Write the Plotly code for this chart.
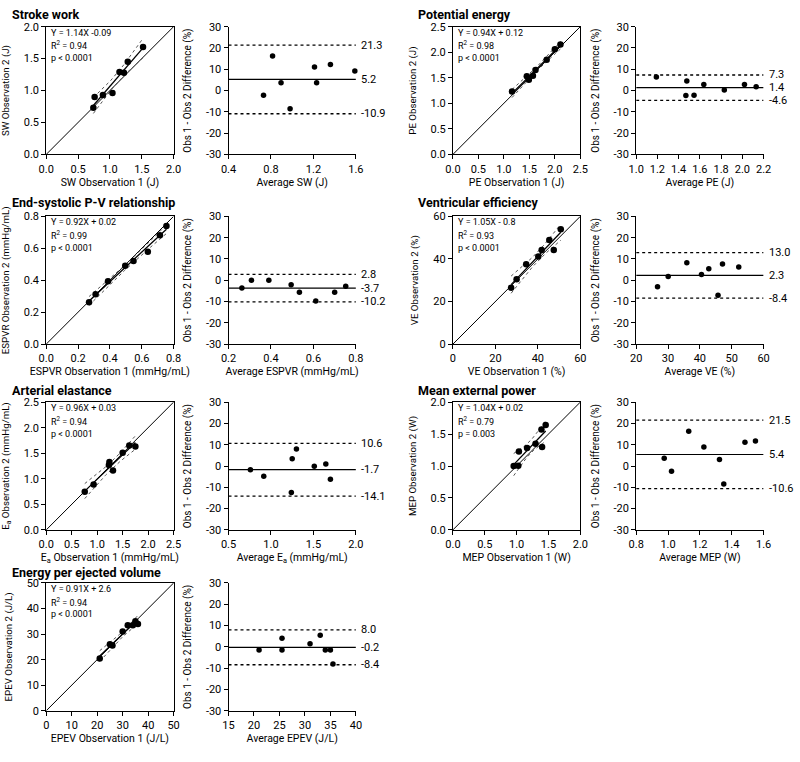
import numpy as np
import plotly.graph_objects as go

W, H = 800, 762

# ---------------- data ----------------
panel_titles = ["Stroke work", "Potential energy", "End-systolic P-V relationship",
                "Ventricular efficiency", "Arterial elastance", "Mean external power",
                "Energy per ejected volume"]

sw_obs1 = [0.74, 0.76, 0.89, 1.04, 1.15, 1.22, 1.28, 1.52]
sw_obs2 = [0.73, 0.90, 0.93, 0.96, 1.29, 1.28, 1.45, 1.68]
sw_avg = [0.73, 0.815, 0.895, 0.98, 1.21, 1.23, 1.36, 1.59]
sw_diff = [-2.2, 16.2, 3.7, -8.6, 11.1, 3.7, 12.2, 9.2]
sw_limits = [21.3, 5.2, -10.9]
sw_stats = ["Y = 1.14X -0.09", "R<sup>2</sup> = 0.94", "p < 0.0001"]

pe_obs1 = [1.16, 1.45, 1.49, 1.57, 1.62, 1.84, 2.00, 2.11]
pe_obs2 = [1.23, 1.53, 1.46, 1.54, 1.65, 1.85, 2.06, 2.15]
pe_avg = [1.19, 1.477, 1.468, 1.545, 1.637, 1.83, 2.02, 2.13]
pe_diff = [6.3, 4.5, -2.3, -2.2, 2.8, 0.3, 2.8, 1.8]
pe_limits = [7.3, 1.4, -4.6]
pe_stats = ["Y = 0.94X + 0.12", "R<sup>2</sup> = 0.98", "p < 0.0001"]

espvr_obs1 = [0.269, 0.31, 0.388, 0.496, 0.548, 0.638, 0.714, 0.755]
espvr_obs2 = [0.262, 0.313, 0.394, 0.491, 0.52, 0.579, 0.682, 0.74]
espvr_avg = [0.263, 0.308, 0.39, 0.495, 0.534, 0.611, 0.70, 0.752]
espvr_diff = [-3.7, 0.0, 0.0, -2.1, -5.6, -9.7, -5.6, -2.8]
espvr_limits = [2.8, -3.7, -10.2]
espvr_stats = ["Y = 0.92X + 0.02", "R<sup>2</sup> = 0.99", "p < 0.0001"]

ve_obs1 = [27.4, 30.0, 34.5, 40.2, 41.8, 45.4, 47.5, 50.8]
ve_obs2 = [26.5, 30.5, 37.5, 41.1, 44.2, 48.9, 44.2, 54.0]
ve_avg = [26.7, 30.05, 35.9, 40.5, 42.8, 47.1, 45.7, 52.2]
ve_diff = [-3.0, 1.8, 8.2, 2.7, 5.4, 7.6, -7.1, 6.2]
ve_limits = [13.0, 2.3, -8.4]
ve_stats = ["Y = 1.05X - 0.8", "R<sup>2</sup> = 0.93", "p < 0.0001"]

ea_obs1 = [0.756, 0.93, 1.23, 1.24, 1.31, 1.50, 1.63, 1.75]
ea_obs2 = [0.744, 0.89, 1.27, 1.33, 1.16, 1.51, 1.65, 1.63]
ea_avg = [0.758, 0.915, 1.25, 1.30, 1.24, 1.51, 1.646, 1.70]
ea_diff = [-1.8, -4.8, 3.4, 8.0, -12.4, -0.1, 1.0, -6.2]
ea_limits = [10.6, -1.7, -14.1]
ea_stats = ["Y = 0.96X + 0.03", "R<sup>2</sup> = 0.94", "p < 0.0001"]

mep_obs1 = [0.954, 1.026, 1.036, 1.164, 1.297, 1.40, 1.39, 1.456]
mep_obs2 = [1.0, 1.005, 1.226, 1.282, 1.349, 1.297, 1.57, 1.64]
mep_avg = [0.976, 1.022, 1.13, 1.225, 1.323, 1.35, 1.483, 1.549]
mep_diff = [3.6, -2.5, 16.3, 8.9, 3.1, -8.5, 11.2, 11.7]
mep_limits = [21.5, 5.4, -10.6]
mep_stats = ["Y = 1.04X + 0.02", "R<sup>2</sup> = 0.79", "p = 0.003"]

epev_obs1 = [21.0, 25.0, 26.0, 30.0, 32.0, 34.0, 35.0, 36.0]
epev_obs2 = [20.5, 26.0, 25.5, 31.0, 33.5, 33.5, 35.0, 34.0]
epev_avg = [21.0, 25.5, 25.5, 31.0, 33.0, 34.0, 35.0, 35.5]
epev_diff = [-1.5, -1.5, 4.0, 1.5, 5.5, -1.5, -1.5, -8.0]
epev_limits = [8.0, -0.2, -8.4]
epev_stats = ["Y = 0.91X + 2.6", "R<sup>2</sup> = 0.94", "p < 0.0001"]

ba_ytitle = "Obs 1 - Obs 2 Difference (%)"
ba_yticks = [-30, -20, -10, 0, 10, 20, 30]
ba_yticktext = ["-30", "-20", "-10", "0", "10", "20", "30"]

# ---------------- layout of panels (pixels) ----------------
panels = [
    dict(obs1=sw_obs1, obs2=sw_obs2, avg=sw_avg, diff=sw_diff, lim=sw_limits, stats=sw_stats,
         title=panel_titles[0], xt="SW Observation 1 (J)", yt="SW Observation 2 (J)", bat="Average SW (J)",
         srange=[0, 2], sdt=0.5, sfmt=".1f", barange=[0.4, 1.6], badt=0.4, bafmt=".1f", col=0, row=0),
    dict(obs1=pe_obs1, obs2=pe_obs2, avg=pe_avg, diff=pe_diff, lim=pe_limits, stats=pe_stats,
         title=panel_titles[1], xt="PE Observation 1 (J)", yt="PE Observation 2 (J)", bat="Average PE (J)",
         srange=[0, 2.5], sdt=0.5, sfmt=".1f", barange=[1.0, 2.2], badt=0.2, bafmt=".1f", col=1, row=0),
    dict(obs1=espvr_obs1, obs2=espvr_obs2, avg=espvr_avg, diff=espvr_diff, lim=espvr_limits, stats=espvr_stats,
         title=panel_titles[2], xt="ESPVR Observation 1 (mmHg/mL)", yt="ESPVR Observation 2 (mmHg/mL)",
         bat="Average ESPVR (mmHg/mL)",
         srange=[0, 0.8], sdt=0.2, sfmt=".1f", barange=[0.2, 0.8], badt=0.2, bafmt=".1f", col=0, row=1),
    dict(obs1=ve_obs1, obs2=ve_obs2, avg=ve_avg, diff=ve_diff, lim=ve_limits, stats=ve_stats,
         title=panel_titles[3], xt="VE Observation 1 (%)", yt="VE Observation 2 (%)", bat="Average VE (%)",
         srange=[0, 60], sdt=20, sfmt="d", barange=[20, 60], badt=10, bafmt="d", col=1, row=1),
    dict(obs1=ea_obs1, obs2=ea_obs2, avg=ea_avg, diff=ea_diff, lim=ea_limits, stats=ea_stats,
         title=panel_titles[4], xt="E<sub>a</sub> Observation 1 (mmHg/mL)", yt="E<sub>a</sub> Observation 2 (mmHg/mL)",
         bat="Average E<sub>a</sub> (mmHg/mL)",
         srange=[0, 2.5], sdt=0.5, sfmt=".1f", barange=[0.5, 2.0], badt=0.5, bafmt=".1f", col=0, row=2),
    dict(obs1=mep_obs1, obs2=mep_obs2, avg=mep_avg, diff=mep_diff, lim=mep_limits, stats=mep_stats,
         title=panel_titles[5], xt="MEP Observation 1 (W)", yt="MEP Observation 2 (W)", bat="Average MEP (W)",
         srange=[0, 2.0], sdt=0.5, sfmt=".1f", barange=[0.8, 1.6], badt=0.2, bafmt=".1f", col=1, row=2),
    dict(obs1=epev_obs1, obs2=epev_obs2, avg=epev_avg, diff=epev_diff, lim=epev_limits, stats=epev_stats,
         title=panel_titles[6], xt="EPEV Observation 1 (J/L)", yt="EPEV Observation 2 (J/L)", bat="Average EPEV (J/L)",
         srange=[0, 50], sdt=10, sfmt="d", barange=[15, 40], badt=5, bafmt="d", col=0, row=3),
]

row_tops = [21, 214, 403, 587]
title_y = [9, 200, 391, 576]
PW = 130
col_sx = [39, 454]
col_bx = [225, 641]
col_tx = [2, 416]

FONT = "Roboto"
fig = go.Figure()
layout = dict(width=W, height=H, margin=dict(l=0, r=0, t=0, b=0),
              paper_bgcolor="white", plot_bgcolor="white", showlegend=False,
              font=dict(family=FONT, size=10, color="black"))
annotations = []


def px(x):
    return x / W


def py(y):
    return 1 - y / H


def ticks(r, dt):
    n = int(round((r[1] - r[0]) / dt))
    return [round(r[0] + i * dt, 6) for i in range(n + 1)]


T_CRIT = 2.447  # t(0.975, df=6)
ax = 1
for p in panels:
    top = row_tops[p["row"]]
    bot = top + PW
    # ---- scatter panel ----
    sx0 = col_sx[p["col"]]
    xs, ys = f"x{ax}", f"y{ax}"
    xk = "xaxis" if ax == 1 else f"xaxis{ax}"
    yk = "yaxis" if ax == 1 else f"yaxis{ax}"
    common = dict(showgrid=False, zeroline=False, showline=True, linecolor="black", linewidth=1,
                  ticks="outside", ticklen=4, tickwidth=1, tickcolor="black",
                  tickfont=dict(family=FONT, size=11, color="black"))
    layout[xk] = dict(common, domain=[px(sx0), px(sx0 + PW)], anchor=ys, range=p["srange"],
                      tickvals=ticks(p["srange"], p["sdt"]), tickformat=p["sfmt"], mirror=True,
                      title=dict(text=p["xt"], font=dict(size=10.5), standoff=2))
    layout[yk] = dict(common, domain=[py(bot), py(top)], anchor=xs, range=p["srange"],
                      tickvals=ticks(p["srange"], p["sdt"]), tickformat=p["sfmt"], mirror=True,
                      title=dict(text=p["yt"], font=dict(size=9.7), standoff=12))
    x = np.array(p["obs1"], dtype=float)
    y = np.array(p["obs2"], dtype=float)
    # identity line
    fig.add_trace(go.Scatter(x=p["srange"], y=p["srange"], mode="lines",
                             line=dict(color="black", width=1), xaxis=xs, yaxis=ys, hoverinfo="skip"))
    # regression + 95% CI of the fit
    b, a = np.polyfit(x, y, 1)
    n = len(x)
    xm = x.mean()
    sxx = ((x - xm) ** 2).sum()
    s = np.sqrt(((y - (a + b * x)) ** 2).sum() / (n - 2))
    xg = np.linspace(x.min(), x.max(), 60)
    yg = a + b * xg
    se = s * np.sqrt(1 / n + (xg - xm) ** 2 / sxx)
    for band in (yg + T_CRIT * se, yg - T_CRIT * se):
        fig.add_trace(go.Scatter(x=xg, y=band, mode="lines", line=dict(color="#555", width=1, dash="dot"),
                                 xaxis=xs, yaxis=ys, hoverinfo="skip"))
    fig.add_trace(go.Scatter(x=xg, y=yg, mode="lines", line=dict(color="black", width=1.3),
                             xaxis=xs, yaxis=ys, hoverinfo="skip"))
    fig.add_trace(go.Scatter(x=x, y=y, mode="markers", marker=dict(color="black", size=6.5),
                             xaxis=xs, yaxis=ys, cliponaxis=False))
    for i, t in enumerate(p["stats"]):
        annotations.append(dict(text=t, xref="paper", yref="paper", x=px(sx0 + 3), y=py(top + 6 + 13 * i),
                                xanchor="left", yanchor="middle", showarrow=False,
                                font=dict(family=FONT, size=9, color="black")))
    annotations.append(dict(text=f"<b>{p['title']}</b>", xref="paper", yref="paper",
                            x=px(col_tx[p["col"]]), y=py(title_y[p["row"]]), xanchor="left", yanchor="middle",
                            showarrow=False, font=dict(family=FONT, size=12.5, color="black")))
    ax += 1
    # ---- Bland-Altman panel ----
    bx0 = col_bx[p["col"]]
    xb, yb = f"x{ax}", f"y{ax}"
    xk = f"xaxis{ax}"
    yk = f"yaxis{ax}"
    layout[xk] = dict(common, domain=[px(bx0), px(bx0 + PW)], anchor=yb, range=p["barange"],
                      tickvals=ticks(p["barange"], p["badt"]), tickformat=p["bafmt"],
                      title=dict(text=p["bat"], font=dict(size=10.5), standoff=2))
    layout[yk] = dict(common, domain=[py(bot), py(top)], anchor=xb, range=[-30, 30],
                      tickvals=ba_yticks, ticktext=ba_yticktext,
                      title=dict(text=ba_ytitle, font=dict(size=10), standoff=12))
    for j, v in enumerate(p["lim"]):
        fig.add_trace(go.Scatter(x=p["barange"], y=[v, v], mode="lines",
                                 line=dict(color="black", width=1.2 if j == 1 else 1.3,
                                           dash="solid" if j == 1 else "dot"),
                                 xaxis=xb, yaxis=yb, hoverinfo="skip"))
        annotations.append(dict(text=f"{v:.1f}", xref="paper", yref=yb, x=px(bx0 + PW + 3), y=v,
                                xanchor="left", yanchor="middle", showarrow=False,
                                font=dict(family=FONT, size=11, color="black")))
    fig.add_trace(go.Scatter(x=p["avg"], y=p["diff"], mode="markers", marker=dict(color="black", size=5.5),
                             xaxis=xb, yaxis=yb, cliponaxis=False))
    ax += 1

layout["annotations"] = annotations
fig.update_layout(**layout)
fig.write_html("out.html", config={"displayModeBar": False},
               post_script="document.body.style.margin='0px';")
